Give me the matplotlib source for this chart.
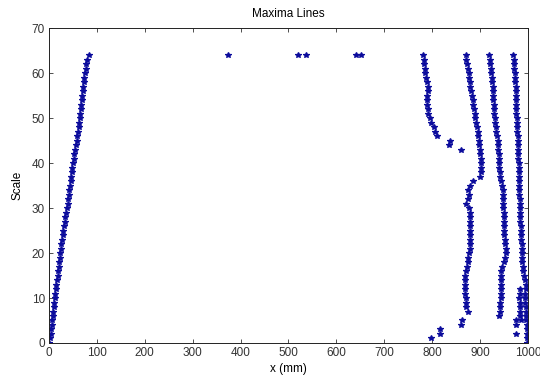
import matplotlib.pyplot as plt

plt.rcParams['font.family'] = ['Liberation Sans', 'DejaVu Sans']

# scale levels
scale_a = list(range(64, -1, -1))

# left line, x (mm) for scale 64 .. 0
line1_x = [83, 80, 78, 77, 76, 74, 73, 72, 71, 69, 68, 67, 66, 65, 64, 63, 62, 60,
           59, 58, 56, 54, 53, 52, 50, 49, 48, 46, 45, 44, 42, 41, 40, 39, 37, 36,
           34, 33, 31, 30, 29, 28, 26, 25, 24, 23, 21, 20, 19, 18, 16, 15, 14, 13,
           12, 11, 10, 9, 8, 7, 6, 5, 4, 3, 1]

# isolated points at the top
top_x = [374, 520, 537, 641, 651]
top_y = [64, 64, 64, 64, 64]

# line A, scale 64 .. 46
lineA_y = list(range(64, 45, -1))
lineA_x = [780, 782, 784, 785, 786, 788, 790, 791, 791, 790, 790, 790, 791, 792,
           795, 798, 803, 806, 810]

# line B, scale 64 .. 7
lineB_y = list(range(64, 6, -1))
lineB_x = [870, 871, 873, 874, 876, 877, 879, 880, 882, 884, 885, 886, 888, 889,
           890, 892, 893, 895, 896, 898, 898, 899, 900, 901, 903, 902, 901, 900,
           886, 880, 875, 877, 874, 871, 876, 879, 878, 879, 879, 880, 880, 879,
           878, 878, 877, 875, 874, 872, 870, 868, 868, 868, 869, 869, 870, 870,
           871, 875]

# line C, scale 64 .. 6
lineC_y = list(range(64, 5, -1))
lineC_x = [919, 920, 921, 922, 923, 924, 925, 926, 927, 928, 928, 929, 929, 930,
           931, 932, 933, 934, 935, 937, 938, 938, 939, 939, 940, 940, 941, 942,
           944, 945, 947, 947, 948, 948, 948, 949, 949, 950, 950, 950, 951, 952,
           953, 954, 954, 953, 950, 946, 944, 943, 943, 943, 943, 943, 943, 942,
           942, 941, 940]

# line D, scale 64 .. 0
lineD_x = [969, 970, 970, 971, 972, 973, 973, 974, 974, 975, 975, 976, 976, 976,
           977, 977, 978, 978, 979, 980, 980, 980, 980, 980, 981, 981, 981, 981,
           982, 982, 982, 982, 983, 983, 983, 984, 984, 984, 985, 985, 986, 986,
           987, 987, 987, 988, 988, 989, 990, 992, 994, 996, 995, 994, 994, 994,
           995, 995, 996, 996, 997, 997, 998, 998, 999]

# scattered points
scatter_x = [838, 835, 860, 862, 861, 797, 816, 816,
             983, 983, 982, 983, 983, 983, 984, 985, 975, 975, 976]
scatter_y = [45, 44, 43, 5, 4, 1, 3, 2,
             12, 11, 10, 9, 8, 7, 6, 5, 5, 4, 2]

fig = plt.figure(figsize=(5.4, 3.79), dpi=100)
ax = fig.add_axes([0.0907, 0.095, 0.887, 0.831])

mk = dict(ls='none', marker='*', ms=3.8, mew=0.9, color='#0c0c9c')
ax.plot(line1_x, scale_a, **mk)
ax.plot(top_x, top_y, **mk)
ax.plot(lineA_x, lineA_y, **mk)
ax.plot(lineB_x, lineB_y, **mk)
ax.plot(lineC_x, lineC_y, **mk)
ax.plot(lineD_x, scale_a, **mk)
ax.plot(scatter_x, scatter_y, **mk)

ax.set_xlim(0, 1000)
ax.set_ylim(0, 70)
ax.set_xticks(range(0, 1001, 100))
ax.set_yticks(range(0, 71, 10))
ax.tick_params(direction='in', top=True, right=True, labelsize=8.5, length=3,
               colors='#333333', width=0.6, pad=3)
for s in ax.spines.values():
    s.set_linewidth(0.7)
    s.set_color('#222222')

ax.set_title('Maxima Lines', fontsize=8.5, pad=8)
ax.set_xlabel('x (mm)', fontsize=8.5, labelpad=3)
ax.set_ylabel('Scale', fontsize=8.5, labelpad=6)

plt.savefig('out.png', dpi=100)
